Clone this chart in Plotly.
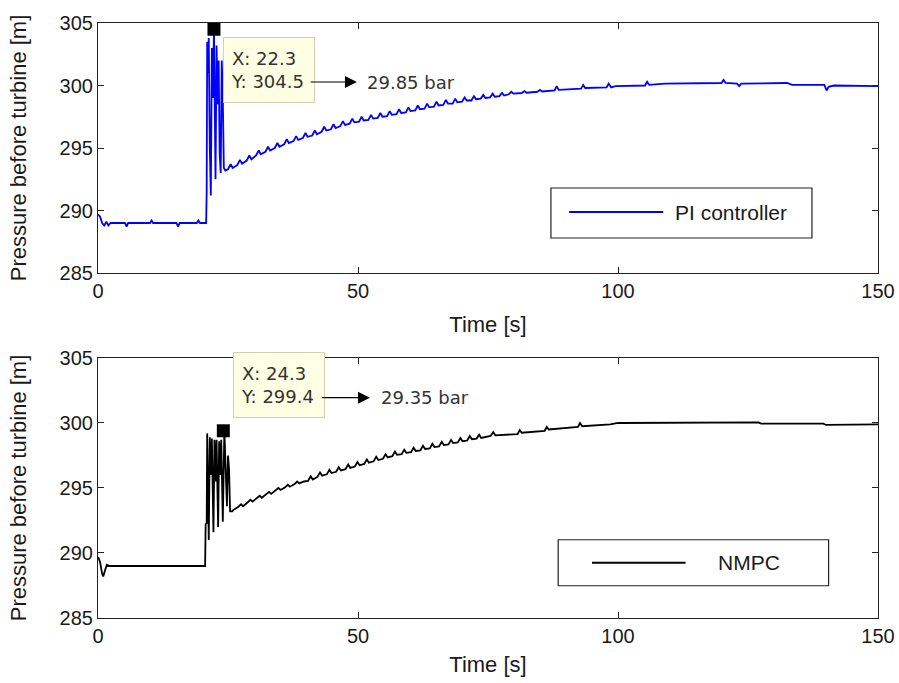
import plotly.graph_objects as go

# ---------------- data ----------------
x_ticks = [0, 50, 100, 150]
y_ticks = [285, 290, 295, 300, 305]

pi_t = [0.0, 0.4, 0.8, 1.2, 1.6, 2.0, 2.4, 3.0, 5.2, 5.5, 5.8, 10.0, 10.3, 10.6,
        15.1, 15.4, 15.7, 19.0, 19.3, 19.6, 20.8,
        20.9, 21.0, 21.2, 21.3, 21.5, 21.7, 21.9, 22.1, 22.3, 22.5, 22.6, 22.8,
        23.0, 23.2, 23.4, 23.6, 23.8, 24.0, 24.2, 24.5,
        25.0, 25.5, 25.9, 26.8, 27.3, 27.7, 28.6, 29.1, 29.5, 30.4, 30.9, 31.3,
        32.2, 32.7, 33.1, 34.0, 34.5, 34.9, 35.8, 36.3, 36.7, 37.6, 38.1, 38.5,
        39.4, 39.9, 40.3, 41.2, 41.7, 42.1, 43.0, 43.5, 43.9, 44.8, 45.3, 45.7,
        46.6, 47.1, 47.5, 48.4, 48.9, 49.3, 50.2, 50.7, 51.1, 52.0, 52.5, 52.9,
        53.8, 54.3, 54.7, 55.6, 56.1, 56.5, 57.4, 57.9, 58.3, 59.2, 59.7, 60.1,
        61.0, 61.5, 61.9, 62.8, 63.3, 63.7, 64.6, 65.1, 65.5, 66.4, 66.9, 67.3,
        68.2, 68.7, 69.1, 70.0, 70.5, 70.9, 71.8, 72.3, 72.7, 73.6, 74.1, 74.5,
        75.4, 75.9, 76.3, 77.2, 77.7, 78.1, 79.0, 79.5, 79.9,
        81.5, 82.0, 82.4, 84.5, 85.0, 85.4, 87.8, 88.2, 88.6, 92.9, 93.3, 93.7,
        97.8, 98.2, 98.7, 99.5, 105.2, 105.6, 106.0, 109.0, 119.9, 120.3, 120.7,
        122.9, 123.3, 123.7, 132.5, 133.5, 139.7, 140.1, 140.5, 141.5, 150.0]
pi_y = [289.7, 289.5, 289.0, 288.8, 289.1, 288.8, 289.0, 289.0, 289.0, 288.7, 289.0, 289.0, 289.2, 289.0,
        289.0, 288.7, 289.0, 289.0, 289.2, 289.0, 289.0,
        291.5, 303.5, 301.0, 303.8, 295.0, 291.2, 303.0, 299.0, 304.5, 296.0, 292.5, 303.2,
        298.5, 302.0, 294.5, 293.0, 302.0, 299.0, 293.4, 293.2,
        293.30, 293.70, 293.40, 293.65, 294.05, 293.75, 294.00, 294.40, 294.10, 294.40, 294.80, 294.50,
        294.70, 295.10, 294.80, 295.00, 295.40, 295.10, 295.30, 295.70, 295.40, 295.55, 295.95, 295.65,
        295.80, 296.20, 295.90, 296.00, 296.40, 296.10, 296.30, 296.70, 296.40, 296.50, 296.90, 296.60,
        296.75, 297.15, 296.85, 296.95, 297.35, 297.05, 297.10, 297.50, 297.20, 297.25, 297.65, 297.35,
        297.40, 297.80, 297.50, 297.55, 297.95, 297.65, 297.70, 298.10, 297.80, 297.85, 298.25, 297.95,
        298.00, 298.40, 298.10, 298.15, 298.55, 298.25, 298.30, 298.70, 298.40, 298.45, 298.85, 298.55,
        298.55, 298.95, 298.65, 298.70, 299.05, 298.80, 298.80, 299.15, 298.90, 298.95, 299.25, 299.00,
        299.05, 299.35, 299.10, 299.15, 299.40, 299.20, 299.30, 299.50, 299.35,
        299.40, 299.55, 299.42, 299.50, 299.65, 299.52, 299.60, 299.95, 299.65, 299.75, 300.05, 299.80,
        299.85, 300.15, 299.85, 299.95, 300.00, 300.30, 300.05, 300.15, 300.20, 300.45, 300.20,
        300.15, 299.95, 300.15, 300.20, 300.05, 300.05, 299.60, 299.90, 300.00, 299.95]

nmpc_t = [0.0, 0.4, 0.8, 1.0, 1.3, 1.7, 2.2, 20.6, 20.7, 20.9,
          21.0, 21.3, 21.5, 21.7, 21.9, 22.2, 22.4, 22.6, 22.8, 23.1, 23.3, 23.5, 23.7,
          24.0, 24.3, 24.5, 24.8, 25.0, 25.2, 25.4, 25.8, 26.0,
          27.0, 27.5, 27.9, 28.8, 29.3, 29.7, 30.6, 31.1, 31.5, 32.4, 32.9, 33.3,
          34.2, 34.7, 35.1, 36.0, 36.5, 36.9, 37.8, 38.3, 38.7, 39.6,
          40.4, 40.9, 41.3, 42.2, 42.7, 43.1, 44.0, 44.5, 44.9, 45.8, 46.3, 46.7,
          47.6, 48.1, 48.5, 49.4, 49.9, 50.3, 51.2, 51.7, 52.1, 53.0, 53.5, 53.9,
          54.8, 55.3, 55.7, 56.6, 57.1, 57.5, 58.4, 58.9, 59.3, 60.2, 60.7, 61.1,
          62.0, 62.5, 62.9, 63.8, 64.3, 64.7, 65.6, 66.1, 66.5, 67.4, 67.9, 68.3,
          69.2, 69.7, 70.1, 71.0, 71.5, 71.9, 72.8, 73.3, 73.7, 74.6,
          75.5, 76.0, 76.4, 80.7, 81.1, 81.5, 85.9, 86.3, 86.7, 92.3, 92.7, 93.1,
          97.0, 98.5, 100.0, 107.5, 108.0, 127.0, 127.5, 139.5, 140.0, 147.0, 147.5, 150.0]
nmpc_y = [289.7, 289.3, 288.4, 288.2, 288.6, 289.1, 289.0, 289.0, 292.2, 292.3,
          299.2, 291.0, 298.9, 296.0, 298.8, 291.6, 298.7, 295.5, 298.7, 292.0, 298.6, 296.0, 298.7,
          292.4, 299.4, 297.0, 293.6, 297.5, 296.5, 293.2, 293.2, 293.3,
          293.55, 293.75, 293.60, 293.90, 294.10, 293.95, 294.20, 294.40, 294.25, 294.50, 294.70, 294.55,
          294.80, 295.00, 294.85, 295.05, 295.25, 295.10, 295.30, 295.50, 295.35, 295.50,
          295.55, 295.90, 295.65, 295.85, 296.20, 295.95, 296.05, 296.40, 296.15, 296.25, 296.60, 296.35,
          296.45, 296.80, 296.55, 296.65, 297.00, 296.75, 296.85, 297.20, 296.95, 297.05, 297.40, 297.15,
          297.25, 297.60, 297.35, 297.45, 297.80, 297.55, 297.60, 297.95, 297.70, 297.75, 298.10, 297.85,
          297.90, 298.25, 298.00, 298.05, 298.40, 298.15, 298.20, 298.55, 298.30, 298.35, 298.70, 298.45,
          298.50, 298.85, 298.60, 298.65, 299.00, 298.75, 298.80, 299.10, 298.85, 298.90,
          299.00, 299.30, 299.05, 299.15, 299.45, 299.25, 299.40, 299.70, 299.50, 299.70, 300.00, 299.75,
          299.85, 299.90, 300.00, 300.00, 300.05, 300.05, 299.95, 299.95, 299.85, 299.85, 299.90, 299.90]

pi_tip_x, pi_tip_y = 22.3, 304.5
nmpc_tip_x, nmpc_tip_y = 24.1, 299.4
nmpc_tip_label_x = 24.3
pi_bar_text = "29.85 bar"
nmpc_bar_text = "29.35 bar"

# ---------------- figure ----------------
fig = go.Figure()
fig.add_trace(go.Scatter(x=pi_t, y=pi_y, mode="lines", line=dict(color="#0000FF", width=1.8),
                         xaxis="x", yaxis="y", showlegend=False, hoverinfo="skip"))
fig.add_trace(go.Scatter(x=nmpc_t, y=nmpc_y, mode="lines", line=dict(color="black", width=1.8),
                         xaxis="x2", yaxis="y2", showlegend=False, hoverinfo="skip"))
fig.add_trace(go.Scatter(x=[pi_tip_x], y=[pi_tip_y], mode="markers", cliponaxis=False,
                         marker=dict(symbol="square", size=13, color="black"),
                         xaxis="x", yaxis="y", showlegend=False))
fig.add_trace(go.Scatter(x=[nmpc_tip_x], y=[nmpc_tip_y], mode="markers", cliponaxis=False,
                         marker=dict(symbol="square", size=13, color="black"),
                         xaxis="x2", yaxis="y2", showlegend=False))

tickfont = dict(family="Liberation Sans, Arial", size=20, color="#1a1a1a")
titlefont = dict(family="Liberation Sans, Arial", size=22, color="#1a1a1a")
common = dict(showline=True, linecolor="#222", linewidth=1.2, mirror="ticks", ticks="inside",
              ticklen=6, tickcolor="#222", showgrid=False, zeroline=False, tickfont=tickfont,
              automargin=False)

fig.update_layout(
    width=899, height=683,
    margin=dict(l=98, r=21, t=23, b=65),
    paper_bgcolor="white", plot_bgcolor="white",
    xaxis=dict(domain=[0, 1], anchor="y", range=[0, 150], tickvals=x_ticks,
               title=dict(text="Time [s]", font=titlefont, standoff=15), **common),
    yaxis=dict(domain=[0.5798, 1], anchor="x", range=[285, 305], tickvals=y_ticks,
               title=dict(text="Pressure before turbine [m]", font=titlefont, standoff=26), **common),
    xaxis2=dict(domain=[0, 1], anchor="y2", range=[0, 150], tickvals=x_ticks,
                title=dict(text="Time [s]", font=titlefont, standoff=10), **common),
    yaxis2=dict(domain=[0, 0.437], anchor="x2", range=[285, 305], tickvals=y_ticks,
                title=dict(text="Pressure before turbine [m]", font=titlefont, standoff=26), **common),
)

# legends (drawn as boxes)
fig.add_shape(type="rect", xref="x", yref="y", x0=87.1, x1=137.3, y0=287.8, y1=291.8,
              line=dict(color="#222", width=1.2), fillcolor="white", layer="above")
fig.add_shape(type="line", xref="x", yref="y", x0=90.6, x1=108.7, y0=289.88, y1=289.88,
              line=dict(color="#0000FF", width=1.8), layer="above")
fig.add_annotation(x=110.6, y=289.88, xref="x", yref="y", text="PI controller", showarrow=False,
                   xanchor="left", yanchor="middle",
                   font=dict(family="Liberation Sans, Arial", size=21, color="#1a1a1a"))

fig.add_shape(type="rect", xref="x2", yref="y2", x0=88.5, x1=140.5, y0=287.48, y1=291.02,
              line=dict(color="#222", width=1.2), fillcolor="white", layer="above")
fig.add_shape(type="line", xref="x2", yref="y2", x0=95.0, x1=113.0, y0=289.25, y1=289.25,
              line=dict(color="black", width=1.8), layer="above")
fig.add_annotation(x=118.9, y=289.25, xref="x2", yref="y2", text="NMPC", showarrow=False,
                   xanchor="left", yanchor="middle",
                   font=dict(family="Liberation Sans, Arial", size=21, color="#1a1a1a"))

# data tips
tipfont = dict(family="DejaVu Sans", size=18, color="#333")
fig.add_annotation(x=24.04, y=303.88, xref="x", yref="y", xanchor="left", yanchor="top",
                   text=f"X: {pi_tip_x}<br>Y: {pi_tip_y}", align="left", showarrow=False,
                   width=76, height=50, borderpad=7, borderwidth=1,
                   bgcolor="#FFFFE3", bordercolor="#d2d0b8", font=tipfont)
fig.add_annotation(x=25.9, y=305.0, yshift=6, xref="x2", yref="y2", xanchor="left", yanchor="top",
                   text=f"X: {nmpc_tip_label_x}<br>Y: {nmpc_tip_y}", align="left", showarrow=False,
                   width=76, height=50, borderpad=7, borderwidth=1,
                   bgcolor="#FFFFE3", bordercolor="#d2d0b8", font=tipfont)

# arrows and bar values
fig.add_annotation(x=49.8, y=300.28, ax=40.6, ay=300.28, xref="x", yref="y", axref="x", ayref="y",
                   text="", showarrow=True, arrowhead=2, arrowsize=2, arrowwidth=1.2, arrowcolor="black")
fig.add_annotation(x=51.35, y=300.28, xref="x", yref="y", text=pi_bar_text, showarrow=False,
                   xanchor="left", yanchor="middle", font=tipfont)
fig.add_annotation(x=52.3, y=301.95, ax=42.8, ay=301.95, xref="x2", yref="y2", axref="x2", ayref="y2",
                   text="", showarrow=True, arrowhead=2, arrowsize=2, arrowwidth=1.2, arrowcolor="black")
fig.add_annotation(x=54.0, y=301.95, xref="x2", yref="y2", text=nmpc_bar_text, showarrow=False,
                   xanchor="left", yanchor="middle", font=tipfont)

fig.write_html("out.html")
